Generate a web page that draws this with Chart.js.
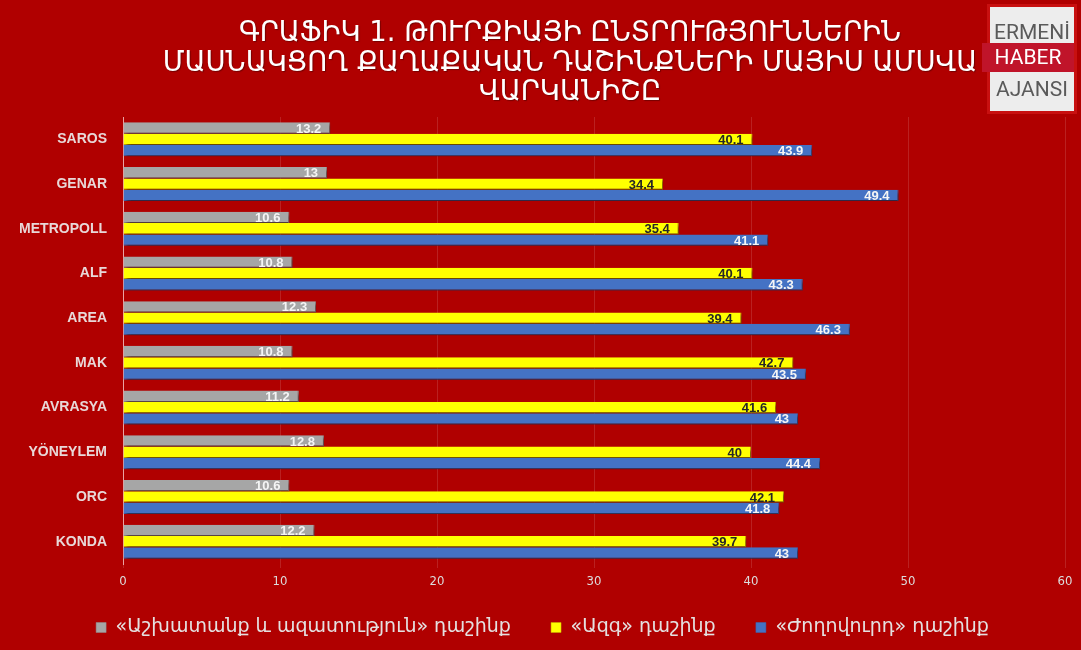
<!DOCTYPE html>
<html><head><meta charset="utf-8">
<script src="https://cdn.jsdelivr.net/npm/chart.js@4/dist/chart.umd.min.js"></script>
<style>
html,body{margin:0;padding:0;background:#B00000;}
#wrap{position:relative;width:1081px;height:650px;background:#B00000;overflow:hidden;}
#title{position:absolute;left:60px;width:1020px;top:17px;text-align:center;color:#FFFFFF;font:27.5px/29.5px "DejaVu Sans",sans-serif;text-shadow:1px 1px 1px rgba(60,0,0,0.5);}
#logo{position:absolute;left:990px;top:7px;width:84px;height:104px;background:#EDEDED;box-shadow:0 0 0 3px #C81010;}
#logo div{position:absolute;left:0;width:84px;text-align:center;font:21px "Liberation Sans Narrow","Roboto",sans-serif;color:#5A5A5A;}
#logo .l1{top:13px;}
#logo .band{top:36px;height:29px;line-height:29px;background:#C0142A;color:#FFFFFF;left:-8px;width:92px;}
#logo .l3{top:70px;}
canvas{position:absolute;left:0;top:0;}
</style></head>
<body><div id="wrap">
<canvas id="c" width="1081" height="650"></canvas>
<div id="title">ԳՐԱՖԻԿ 1. ԹՈՒՐՔԻԱՅԻ ԸՆՏՐՈՒԹՅՈՒՆՆԵՐԻՆ<br>ՄԱՍՆԱԿՑՈՂ ՔԱՂԱՔԱԿԱՆ ԴԱՇԻՆՔՆԵՐԻ ՄԱՅԻՍ ԱՄՍՎԱ<br>ՎԱՐԿԱՆԻՇԸ</div>
<div id="logo"><div class="l1">ERMENİ</div><div class="band">HABER</div><div class="l3">AJANSI</div></div>
</div>
<script>
const categories = ["SAROS","GENAR","METROPOLL","ALF","AREA","MAK","AVRASYA","YÖNEYLEM","ORC","KONDA"];
const seriesNames = ["«Աշխատանք և ազատություն» դաշինք","«Ազգ» դաշինք","«Ժողովուրդ» դաշինք"];
const laborFreedom = [13.2,13,10.6,10.8,12.3,10.8,11.2,12.8,10.6,12.2];
const nation = [40.1,34.4,35.4,40.1,39.4,42.7,41.6,40,42.1,39.7];
const people = [43.9,49.4,41.1,43.3,46.3,43.5,43,44.4,41.8,43];
const xTicks = [0,10,20,30,40,50,60];

const colors = ["#A6A6A6","#FFFF00","#4472C4"];
const borders = ["#8F8F8F","#C8B400","#3A64AE"];
const labelColors = ["#F5F5F5","#262626","#F5F5F5"];

const shadowPlugin = {
  id:'barShadow',
  beforeDatasetsDraw(chart){
    const ctx=chart.ctx; ctx.save();
    ctx.shadowColor='rgba(40,0,0,0.6)'; ctx.shadowOffsetX=2; ctx.shadowOffsetY=3; ctx.shadowBlur=3;
  },
  afterDatasetsDraw(chart){ chart.ctx.restore(); }
};
const labelPlugin = {
  id:'valueLabels',
  afterDatasetsDraw(chart){
    const ctx=chart.ctx;
    chart.data.datasets.forEach((ds,i)=>{
      const meta=chart.getDatasetMeta(i);
      meta.data.forEach((bar,j)=>{
        ctx.save();
        ctx.font='bold 13px "Liberation Sans", sans-serif';
        ctx.fillStyle=labelColors[i];
        ctx.textAlign='right'; ctx.textBaseline='middle';
        ctx.fillText(String(ds.data[j]), bar.x-9, bar.y+1);
        ctx.restore();
      });
    });
  }
};

new Chart(document.getElementById('c'),{
  type:'bar',
  data:{
    labels:categories,
    datasets:[laborFreedom,nation,people].map((d,i)=>({
      label:seriesNames[i], data:d, backgroundColor:colors[i], borderColor:borders[i], borderWidth:{top:0,left:0,right:1,bottom:1},
      categoryPercentage:0.76, barPercentage:1.0
    }))
  },
  options:{
    indexAxis:'y', responsive:false, animation:false,
    layout:{padding:{top:117,right:16,bottom:3,left:20}},
    plugins:{
      title:{display:false}, tooltip:{enabled:false},
      legend:{position:'bottom',labels:{boxWidth:10,boxHeight:10,padding:10,color:'#E4E0E0',
        font:{family:'"DejaVu Sans", sans-serif',size:19},
        generateLabels(chart){
          const items = Chart.defaults.plugins.legend.labels.generateLabels(chart);
          items.forEach((it,k)=>{ if(k<items.length-1) it.text = it.text + '     '; });
          return items;
        }}}
    },
    scales:{
      x:{min:0,max:60,afterBuildTicks(s){s.ticks=xTicks.map(v=>({value:v}));},
        afterFit(s){s.height=44;},
        ticks:{color:'#DCDCDC',font:{family:'"DejaVu Sans Condensed", sans-serif',size:13},padding:6},
        grid:{color:'rgba(255,255,255,0.13)',tickLength:4,drawTicks:true},
        border:{display:false}},
      y:{afterFit(s){s.width=103;},
        ticks:{color:'#E8D8D8',font:{family:'"Liberation Sans", sans-serif',size:14,weight:'bold'},padding:16},
        grid:{display:false,drawTicks:false},
        border:{display:true,color:'rgba(255,220,220,0.7)',width:1}}
    }
  },
  plugins:[shadowPlugin,labelPlugin]
});
</script>
</body></html>
